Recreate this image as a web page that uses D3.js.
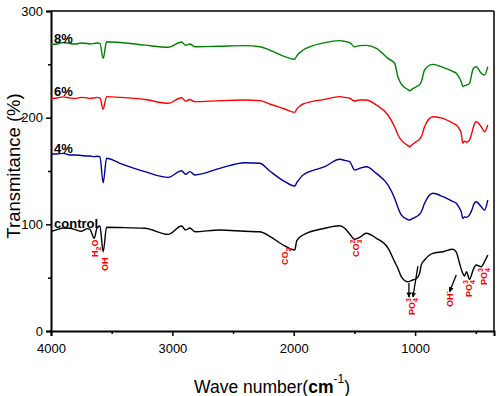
<!DOCTYPE html>
<html><head><meta charset="utf-8">
<script src="https://cdn.jsdelivr.net/npm/d3@7"></script>
<style>
html,body{margin:0;padding:0;background:#fff;}
svg{display:block;font-family:"Liberation Sans",Arial,sans-serif;}
</style></head><body>
<svg id="chart" width="499" height="396"></svg>
<script>
// ---- data ----
const wavenumbers = [4000,3950,3900,3844,3800,3750,3700,3679,3644,3621,3597,3570,3542,3432,3226,3035,2924,2891,2856,2815,2609,2403,2280,2198,2074,1992,1975,1923,1745,1621,1580,1539,1498,1457,1402,1319,1224,1169,1142,1114,1062,1045,1021,990,963,949,922,854,771,691,661,634,620,607,593,576,552,527,519,497,455,428,401];
const series8 = [268.6,269,270.5,269.5,269,270,269.5,269,269.5,270,
 269.7,255.6,271.2,270.5,268,266,271,267.8,269,266.5,
 267,267.5,266.5,263.4,257.2,254.7,258,263.4,270.3,272.2,
 271.5,270.3,266.5,267.5,267.8,265,255.6,251,238.4,231.6,
 226.5,225.3,227,229,231,233.7,244.7,250,247.2,243.5,
 241.6,237,233.7,229,230,230.5,232.2,244,246.3,247.8,
 241.6,240,247.8];
const series6 = [218.2,218.5,219.5,218.5,218,219,218.5,218,218.5,219,
 218.5,207.8,219.7,219,217,213.5,218.7,215.5,217,215,
 216,216.5,216,212.8,208.1,205,208,212.8,217.2,219.7,
 219,218.2,215.6,216.5,216.6,211.9,202.5,191.5,184,179,
 174,172.8,175,177.5,180,182.2,191.5,200.9,199.4,195,
 193.1,189,185.3,176,178,177,179,188,191.5,196.2,
 191.5,186.8,193.1];
const series4 = [165.9,166,166.5,165,165,164.5,164,164,163.5,163.8,
 163.4,139,161.9,157.2,149.4,144,150.3,146.9,149.4,146.3,
 152.5,157.8,157.2,150,140,135.9,139,146.3,154,161,
 160,158.7,150.9,152.5,154,147.8,136.9,124.4,116,108.8,
 104.5,104,105.5,107.2,109.5,111.8,119.7,129.1,125.9,121.5,
 119.7,115,111.8,105.6,107,106.5,108.8,115,118.1,121.2,
 116.5,113.4,122.8];
const seriesControl = [93.1,95,96.5,96.3,95,93.5,96,95.3,86.9,96.6,
 98.4,74.3,97.2,97,96.3,90.6,98.4,94.7,96.6,93.1,
 94.7,93.5,93,88.8,79.7,75.9,84.7,90,96.3,98.7,
 96.3,91,86,87.8,91.6,86.9,78,65,58.8,50.9,
 46.2,46.5,47.8,49,54,62,66.6,72.8,74.3,76.6,
 74,63.5,58,54,51.6,55.6,48.4,55.6,58,61.9,
 60.3,65,71.3];
const seriesNames = ["8%","6%","4%","control"];
const seriesColors = ["#008000","#ff0000","#00009c","#000000"];
const labelValues = [270,220,167,97];
const xMajorTicks = [4000,3000,2000,1000];
const xMinorTicks = [3500,2500,1500,500];
const yMajorTicks = [0,100,200,300];
const yMinorTicks = [50,150,250];
// annotations: position (wavenumber, value) of text start, pieces
const annotations = [
 {wn:3611, v:69.4, parts:[{t:"H"},{t:"2",k:"sub"},{t:"O"}]},
 {wn:3528, v:56.3, parts:[{t:"OH"}]},
 {wn:2049, v:61.9, parts:[{t:"CO"},{t:"2",k:"sub"}]},
 {wn:1465, v:69.4, parts:[{t:"CO"},{t:"3",k:"sub"},{t:"2-",k:"sup",stack:true}]},
 {wn:1000, v:15.0, parts:[{t:"PO"},{t:"4",k:"sub"},{t:"3-",k:"sup",stack:true}]},
 {wn:691,  v:22.5, parts:[{t:"OH"},{t:"-",k:"sup"}]},
 {wn:535,  v:31.9, parts:[{t:"PO"},{t:"4",k:"sub"},{t:"3",k:"sup",stack:true}]},
 {wn:407,  v:43.1, parts:[{t:"PO"},{t:"4",k:"sub"},{t:"3",k:"sup",stack:true}]}
];
const arrows = [
 {from:[1051,45.0], to:[1051,31.9]},
 {from:[977,60.9],  to:[1018,31.9]},
 {from:[661,52.5],  to:[716,36.8]}
];

// ---- chart ----
const svg = d3.select("#chart");
const L=51, R=494, T=11, B=331;
const x = d3.scaleLinear().domain([4000,350]).range([L,R]);
const y = d3.scaleLinear().domain([0,300]).range([B,T]);

// frame top/right
svg.append("line").attr("x1",L).attr("x2",R).attr("y1",T).attr("y2",T).attr("stroke","#000").attr("stroke-width",1.5);
svg.append("line").attr("x1",R).attr("x2",R).attr("y1",T).attr("y2",B).attr("stroke","#000").attr("stroke-width",1.5);

// x axis
const gx = svg.append("g").attr("transform",`translate(0,${B})`)
 .call(d3.axisBottom(x).tickValues(xMajorTicks).tickSize(5).tickPadding(8).tickFormat(d3.format("d")));
svg.append("g").attr("transform",`translate(0,${B})`)
 .call(d3.axisBottom(x).tickValues(xMinorTicks).tickSize(3).tickFormat(""))
 .select(".domain").remove();
// y axis
const gy = svg.append("g").attr("transform",`translate(${L},0)`)
 .call(d3.axisLeft(y).tickValues(yMajorTicks).tickSize(5).tickPadding(3).tickFormat(d3.format("d")));
svg.append("g").attr("transform",`translate(${L},0)`)
 .call(d3.axisLeft(y).tickValues(yMinorTicks).tickSize(3).tickFormat(""))
 .select(".domain").remove();
svg.selectAll(".domain").attr("stroke-width",2).attr("stroke","#000");
svg.selectAll(".tick line").attr("stroke-width",1.5).attr("stroke","#000");
svg.selectAll(".tick text").attr("font-size",13).attr("fill","#000")
 .attr("font-family","'Liberation Sans',Arial,sans-serif");

// curves
const allSeries = [series8, series6, series4, seriesControl];
const line = d3.line().x(d=>x(d[0])).y(d=>y(d[1])).curve(d3.curveMonotoneX);
allSeries.forEach((s,i)=>{
  const pts = wavenumbers.map((w,j)=>[w,s[j]]);
  svg.append("path").datum(pts).attr("d",line)
   .attr("fill","none").attr("stroke",seriesColors[i]).attr("stroke-width",1.4)
   .attr("stroke-linejoin","round");
});

// series labels
seriesNames.forEach((n,i)=>{
  svg.append("text").attr("x",x(3975)).attr("y",y(labelValues[i]))
   .attr("font-size",13).attr("font-weight","bold").attr("fill","#000").text(n);
});

// annotations
annotations.forEach(a=>{
  const t = svg.append("text")
   .attr("transform",`translate(${x(a.wn)},${y(a.v)}) rotate(-90)`)
   .attr("font-size",9).attr("font-weight","bold").attr("fill","#ff0000");
  let off = 0, lastW = 0;
  a.parts.forEach(p=>{
    const target = p.k==="sub" ? 3 : p.k==="sup" ? -4 : 0;
    const ts = t.append("tspan").text(p.t).attr("dy", target-off)
      .attr("font-size", p.k ? 7 : 9);
    if(p.stack) ts.attr("dx", -lastW);
    off = target;
    lastW = ts.node().getComputedTextLength();
  });
});

// arrows
const defs = svg.append("defs");
defs.append("marker").attr("id","ah").attr("viewBox","0 0 10 10")
 .attr("refX",9).attr("refY",5).attr("markerWidth",5).attr("markerHeight",5)
 .attr("orient","auto").attr("markerUnits","userSpaceOnUse")
 .append("path").attr("d","M0,0L10,5L0,10z").attr("fill","#000");
arrows.forEach(a=>{
  svg.append("line").attr("x1",x(a.from[0])).attr("y1",y(a.from[1]))
   .attr("x2",x(a.to[0])).attr("y2",y(a.to[1]))
   .attr("stroke","#000").attr("stroke-width",1.3).attr("marker-end","url(#ah)");
});

// axis titles
svg.append("text").attr("transform","translate(19.5,166) rotate(-90)")
 .attr("text-anchor","middle").attr("font-size",18.5).attr("fill","#000")
 .text("Transmitance (%)");
const xt = svg.append("text").attr("x",272).attr("y",393).attr("text-anchor","middle")
 .attr("font-size",17.5).attr("fill","#000");
xt.append("tspan").text("Wave number(");
xt.append("tspan").attr("font-weight","bold").text("cm");
xt.append("tspan").attr("font-size",12).attr("dy",-10).text("-1");
xt.append("tspan").attr("dy",10).text(")");
</script>
</body></html>
